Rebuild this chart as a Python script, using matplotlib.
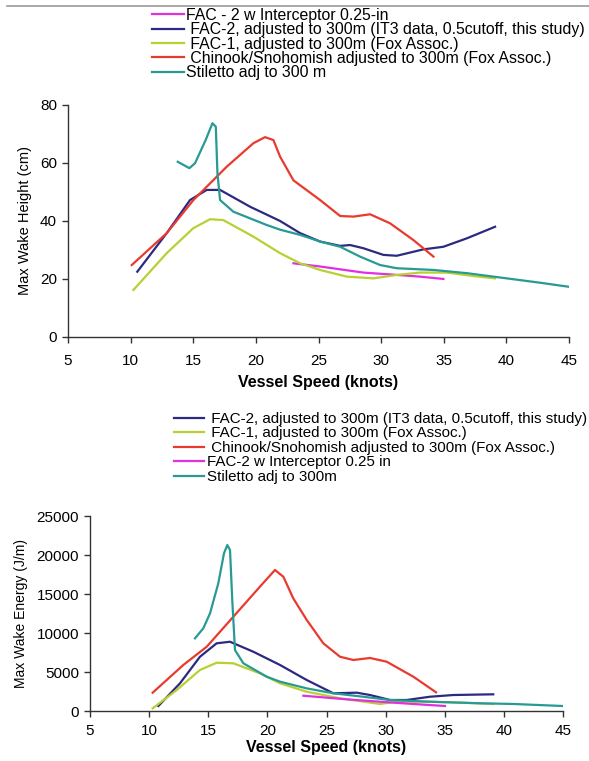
import matplotlib.pyplot as plt
from matplotlib.lines import Line2D

plt.rcParams['font.family'] = ['Liberation Sans', 'DejaVu Sans']

# ---- top chart: max wake height (cm) ----
h_stil_x = [13.76, 14.69, 15.14, 16.0, 16.53, 16.8, 16.93, 17.14, 18.2, 20.87, 21.93, 23.53, 25.13, 26.73, 28.32, 29.92, 31.25, 34.18, 36.84, 40.04, 42.7, 45.0]
h_stil_y = [60.4, 58.2, 59.9, 68.0, 73.7, 72.5, 56.4, 47.2, 43.2, 38.6, 37.0, 35.2, 32.9, 31.1, 27.7, 24.8, 23.7, 23.1, 22.0, 20.2, 18.7, 17.3]

h_chin_x = [10.09, 12.88, 15.01, 17.67, 19.8, 20.73, 21.4, 21.93, 23.0, 25.13, 26.73, 27.79, 29.12, 30.71, 32.58, 34.18]
h_chin_y = [24.8, 35.8, 47.2, 58.7, 66.8, 68.9, 67.9, 62.2, 54.0, 47.2, 41.7, 41.5, 42.3, 39.2, 33.4, 27.7]

h_fac2_x = [10.53, 12.88, 14.74, 16.07, 17.14, 19.54, 21.93, 23.53, 25.13, 26.73, 27.52, 28.58, 30.18, 31.25, 33.37, 34.97, 36.84, 39.1]
h_fac2_y = [22.5, 35.8, 47.2, 50.7, 50.7, 44.9, 40.0, 35.8, 32.9, 31.4, 31.7, 30.6, 28.3, 28.0, 30.2, 31.1, 34.0, 38.0]

h_fac1_x = [10.22, 12.88, 15.0, 16.34, 17.4, 19.8, 21.93, 23.53, 25.13, 27.26, 29.39, 31.25, 33.11, 35.24, 37.37, 39.1]
h_fac1_y = [16.2, 28.9, 37.5, 40.6, 40.3, 34.6, 28.9, 25.4, 23.1, 20.8, 20.2, 21.4, 22.2, 22.2, 21.0, 20.2]

h_int_x = [23.0, 25.13, 28.58, 31.25, 33.11, 34.97]
h_int_y = [25.4, 24.3, 22.2, 21.4, 20.8, 20.0]

# ---- bottom chart: max wake energy (J/m) ----
e_stil_x = [13.88, 14.58, 15.15, 15.85, 16.33, 16.61, 16.84, 17.03, 17.26, 17.97, 19.94, 21.07, 23.33, 25.58, 28.1, 30.37, 33.75, 37.97, 40.8, 45.0]
e_stil_y = [9320, 10600, 12525, 16370, 20220, 21280, 20640, 14230, 7820, 6115, 4400, 3760, 2900, 2270, 1830, 1410, 1190, 990, 900, 640]

e_chin_x = [10.3, 12.89, 14.87, 17.12, 19.37, 20.64, 21.35, 22.19, 23.33, 24.73, 26.14, 27.27, 28.68, 30.09, 32.34, 34.26]
e_chin_y = [2350, 5900, 8240, 12090, 15940, 18080, 17220, 14440, 11670, 8680, 6960, 6540, 6800, 6320, 4400, 2400]

e_fac2_x = [10.78, 12.61, 14.3, 15.71, 16.84, 18.81, 21.07, 23.33, 25.58, 27.55, 28.68, 30.37, 31.78, 33.75, 35.72, 39.1]
e_fac2_y = [640, 3550, 6960, 8680, 8880, 7600, 5900, 3970, 2270, 2350, 2050, 1410, 1410, 1830, 2050, 2140]

e_fac1_x = [10.3, 12.33, 14.3, 15.71, 17.12, 19.37, 21.07, 23.33, 26.14, 29.52, 30.94, 33.75, 36.56, 39.1]
e_fac1_y = [340, 2690, 5260, 6190, 6115, 4830, 3550, 2470, 1630, 900, 1190, 1190, 1060, 900]

e_int_x = [23.04, 26.7, 29.52, 32.34, 35.02]
e_int_y = [1960, 1500, 1190, 900, 640]

lbl_int_top = "FAC - 2 w Interceptor 0.25-in"
lbl_int_bot = "FAC-2 w Interceptor 0.25 in"
lbl_fac2 = " FAC-2, adjusted to 300m (IT3 data, 0.5cutoff, this study)"
lbl_fac1 = " FAC-1, adjusted to 300m (Fox Assoc.)"
lbl_chin = " Chinook/Snohomish adjusted to 300m (Fox Assoc.)"
lbl_stil_top = "Stiletto adj to 300 m"
lbl_stil_bot = "Stiletto adj to 300m"

x_ticks = [5, 10, 15, 20, 25, 30, 35, 40, 45]

c_int = '#e030e0'
c_fac2 = '#2c2a80'
c_fac1 = '#b8d032'
c_chin = '#e83a2e'
c_stil = '#279a94'
lw = 1.6

fig = plt.figure(figsize=(5.89, 7.61), dpi=100)
fig.add_artist(Line2D([0.012, 1.0], [0.992, 0.992], color='#999999', lw=1.2))


def style_axes(ax, pad, labelpad):
    for s in ['top', 'right']:
        ax.spines[s].set_visible(False)
    for s in ['left', 'bottom']:
        ax.spines[s].set_color('#333333')
        ax.spines[s].set_linewidth(1.0)
    ax.tick_params(direction='out', length=4, width=1.0, color='#333333', labelsize=11, pad=4)
    ax.tick_params(axis='x', pad=pad)
    ax.set_xlim(5, 45)
    ax.set_xticks(x_ticks)
    ax.set_xlabel("Vessel Speed (knots)", fontsize=11.5, fontweight='bold', labelpad=labelpad)


# top
ax1 = fig.add_axes([0.1155, 0.5572, 0.8505, 0.3049])
l_int, = ax1.plot(h_int_x, h_int_y, color=c_int, lw=lw, label=lbl_int_top)
l_fac2, = ax1.plot(h_fac2_x, h_fac2_y, color=c_fac2, lw=lw, label=lbl_fac2)
l_fac1, = ax1.plot(h_fac1_x, h_fac1_y, color=c_fac1, lw=lw, label=lbl_fac1)
l_chin, = ax1.plot(h_chin_x, h_chin_y, color=c_chin, lw=lw, label=lbl_chin)
l_stil, = ax1.plot(h_stil_x, h_stil_y, color=c_stil, lw=lw, label=lbl_stil_top)
style_axes(ax1, 8, 5)
ax1.set_ylim(0, 80)
ax1.set_yticks([0, 20, 40, 60, 80])
ax1.set_ylabel("Max Wake Height (cm)", fontsize=10.5, labelpad=6)
fig.legend(handles=[l_int, l_fac2, l_fac1, l_chin, l_stil], loc='upper left',
           bbox_to_anchor=(152 / 589, 1 - 8 / 761), frameon=False, fontsize=11.4,
           labelspacing=-0.045, handlelength=2.0, handletextpad=0.15, borderpad=0, borderaxespad=0)

# bottom
ax2 = fig.add_axes([0.1528, 0.0657, 0.8031, 0.2562])
m_fac2, = ax2.plot(e_fac2_x, e_fac2_y, color=c_fac2, lw=lw, label=lbl_fac2)
m_fac1, = ax2.plot(e_fac1_x, e_fac1_y, color=c_fac1, lw=lw, label=lbl_fac1)
m_chin, = ax2.plot(e_chin_x, e_chin_y, color=c_chin, lw=lw, label=lbl_chin)
m_int, = ax2.plot(e_int_x, e_int_y, color=c_int, lw=lw, label=lbl_int_bot)
m_stil, = ax2.plot(e_stil_x, e_stil_y, color=c_stil, lw=lw, label=lbl_stil_bot)
style_axes(ax2, 5, 2)
ax2.set_ylim(0, 25000)
ax2.set_yticks([0, 5000, 10000, 15000, 20000, 25000])
ax2.set_ylabel("Max Wake Energy (J/m)", fontsize=10, labelpad=6)
fig.legend(handles=[m_fac2, m_fac1, m_chin, m_int, m_stil], loc='upper left',
           bbox_to_anchor=(174 / 589, 1 - 412 / 761), frameon=False, fontsize=10.9,
           labelspacing=0.03, handlelength=2.0, handletextpad=0.15, borderpad=0, borderaxespad=0)

fig.savefig("out.png", dpi=100)
